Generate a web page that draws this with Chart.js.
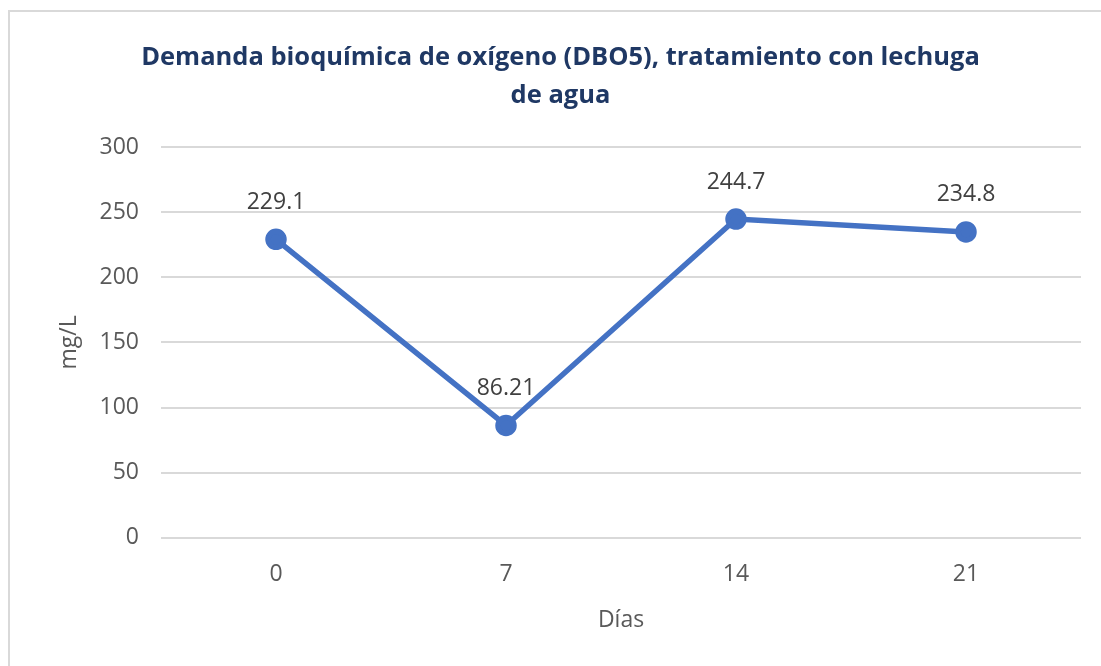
<!DOCTYPE html>
<html>
<head>
<meta charset="utf-8">
<script src="https://cdn.jsdelivr.net/npm/chart.js@4.4.0/dist/chart.umd.min.js"></script>
<style>
  html, body { margin: 0; padding: 0; background: #fff; overflow: hidden; }
  #frame { position: absolute; left: 8px; top: 10px; width: 1200px; height: 800px; border: 2px solid #d9d9d9; }
  #wrap { position: absolute; left: 0; top: 0; width: 1101px; height: 666px; }
</style>
</head>
<body>
<div id="frame"></div>
<div id="wrap"><canvas id="chart" width="1101" height="666"></canvas></div>
<script>
// data
const dias = ["0", "7", "14", "21"];
const dbo5 = [229.1, 86.21, 244.7, 234.8];
const yTicks = [0, 50, 100, 150, 200, 250, 300];

const titleLines = ["Demanda bioquímica de oxígeno (DBO5), tratamiento con lechuga", "de agua"];
const grey = "#595959";
const blue = "#4472C4";

// simple value labels above each point
const pointLabels = {
  id: "pointLabels",
  afterDatasetsDraw(chart) {
    const ctx = chart.ctx;
    const meta = chart.getDatasetMeta(0);
    ctx.save();
    ctx.font = "23px 'Open Sans'";
    ctx.fillStyle = "#404040";
    ctx.textAlign = "center";
    ctx.textBaseline = "middle";
    meta.data.forEach((pt, i) => {
      ctx.fillText(String(dbo5[i]), pt.x, pt.y - 37);
    });
    ctx.restore();
  }
};

const ctx = document.getElementById("chart").getContext("2d");
const myChart = new Chart(ctx, {
  type: "line",
  data: {
    labels: dias,
    datasets: [
      {
        label: "DBO5",
        data: dbo5,
        borderColor: blue,
        backgroundColor: blue,
        borderWidth: 5.5,
        pointRadius: 8,
        pointBackgroundColor: blue,
        pointBorderColor: blue,
        tension: 0,
      },
    ],
  },
  options: {
    responsive: false,
    maintainAspectRatio: false,
    animation: false,
    layout: { padding: { left: 40, right: 20, top: 0, bottom: 28 } },
    plugins: {
      legend: { display: false },
      tooltip: { enabled: false },
      title: {
        display: true,
        text: titleLines,
        color: "#1F3864",
        font: { family: "'Open Sans'", size: 25.5, weight: "bold", lineHeight: 1.49 },
        padding: { top: 39, bottom: 32 },
      },
    },
    scales: {
      x: {
        offset: true,
        grid: { display: false, drawTicks: false },
        border: { display: false },
        ticks: { color: grey, font: { family: "'Open Sans'", size: 23 }, padding: 23 },
        title: {
          display: true,
          text: "Días",
          color: grey,
          font: { family: "'Open Sans'", size: 23 },
          padding: { top: -5, bottom: 4 },
        },
      },
      y: {
        min: 0,
        max: 300,
        afterBuildTicks(scale) {
          scale.ticks = yTicks.map((v) => ({ value: v }));
        },
        afterFit(scale) {
          scale.width = 121;
        },
        grid: { color: "#d9d9d9", lineWidth: 2, drawTicks: false },
        border: { display: false },
        ticks: { color: grey, font: { family: "'Open Sans'", size: 23 }, padding: 22 },
        title: {
          display: true,
          text: "mg/L",
          color: grey,
          font: { family: "'Open Sans'", size: 23 },
          padding: { top: 16, bottom: 0 },
        },
      },
    },
  },
  plugins: [pointLabels],
});
</script>
</body>
</html>
